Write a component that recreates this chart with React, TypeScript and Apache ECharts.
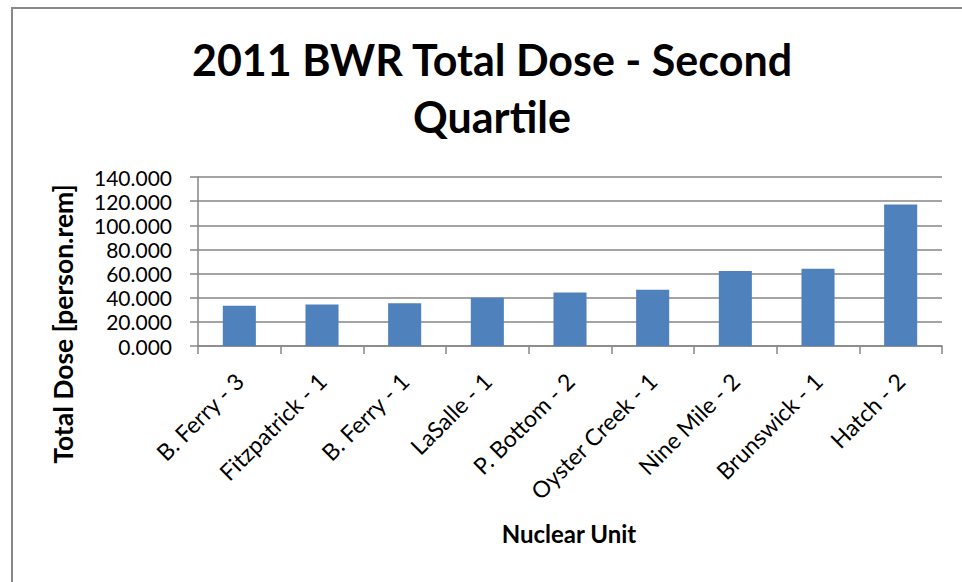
import React, { useEffect, useRef } from "react";
import * as echarts from "echarts";

const categories = [
  "B. Ferry - 3",
  "Fitzpatrick - 1",
  "B. Ferry - 1",
  "LaSalle - 1",
  "P. Bottom - 2",
  "Oyster Creek - 1",
  "Nine Mile - 2",
  "Brunswick - 1",
  "Hatch - 2",
];
const doseValues = [33.3, 34.4, 35.5, 39.9, 44.4, 46.6, 62.1, 64.0, 117.2];
const titleLines = ["2011 BWR Total Dose - Second", "Quartile"];
const yAxisTitle = "Total Dose [person.rem]";
const xAxisTitle = "Nuclear Unit";

const FONT = "Lato, 'Open Sans', sans-serif";
const GRAY = "#868686";

export default function App() {
  const ref = useRef<HTMLDivElement>(null);
  useEffect(() => {
    if (!ref.current) return;
    const chart = echarts.init(ref.current, null, { renderer: "svg" });
    chart.setOption({
      animation: false,
      backgroundColor: "#ffffff",
      grid: {
        left: 198,
        right: 20,
        top: 177,
        bottom: 236,
        containLabel: false,
        outerBoundsMode: "none",
      },
      xAxis: {
        type: "category",
        data: categories,
        axisLine: { show: true, lineStyle: { color: GRAY, width: 1.5 } },
        axisTick: { show: true, length: 8, lineStyle: { color: GRAY, width: 1.5 } },
        axisLabel: {
          interval: 0,
          rotate: 45,
          fontSize: 23,
          fontFamily: FONT,
          color: "#000",
          margin: 31,
        },
      },
      yAxis: {
        type: "value",
        min: 0,
        max: 140,
        interval: 20,
        axisLine: { show: true, lineStyle: { color: GRAY, width: 1.5 } },
        axisTick: { show: true, length: 8, lineStyle: { color: GRAY, width: 1.5 } },
        splitLine: { show: true, lineStyle: { color: GRAY, width: 1.5 } },
        axisLabel: {
          fontSize: 21,
          lineHeight: 20,
          fontFamily: FONT,
          color: "#000",
          margin: 26,
          formatter: (v: number) => v.toFixed(3),
        },
      },
      series: [
        {
          type: "bar",
          data: doseValues,
          barWidth: "40%",
          itemStyle: { color: "#4F81BD" },
        },
      ],
      graphic: [
        {
          type: "rect",
          shape: { x: 12, y: 8, width: 1000, height: 1000 },
          style: { fill: "none", stroke: "#898989", lineWidth: 2 },
          silent: true,
          z: 100,
        },
        {
          type: "text",
          x: 492,
          y: 59,
          style: {
            text: titleLines[0],
            font: `bold 43px ${FONT}`,
            fill: "#000",
            textAlign: "center",
            textVerticalAlign: "middle",
          },
        },
        {
          type: "text",
          x: 492,
          y: 116,
          style: {
            text: titleLines[1],
            font: `bold 43px ${FONT}`,
            fill: "#000",
            textAlign: "center",
            textVerticalAlign: "middle",
          },
        },
        {
          type: "text",
          x: 63,
          y: 324,
          rotation: Math.PI / 2,
          style: {
            text: yAxisTitle,
            font: `bold 26.5px ${FONT}`,
            fill: "#000",
            textAlign: "center",
            textVerticalAlign: "middle",
          },
        },
        {
          type: "text",
          x: 569,
          y: 533,
          style: {
            text: xAxisTitle,
            font: `bold 24px ${FONT}`,
            fill: "#000",
            textAlign: "center",
            textVerticalAlign: "middle",
          },
        },
      ],
    });
    return () => chart.dispose();
  }, []);
  return (
    <div
      ref={ref}
      style={{ position: "fixed", left: 0, top: 0, width: 962, height: 582 }}
    />
  );
}
